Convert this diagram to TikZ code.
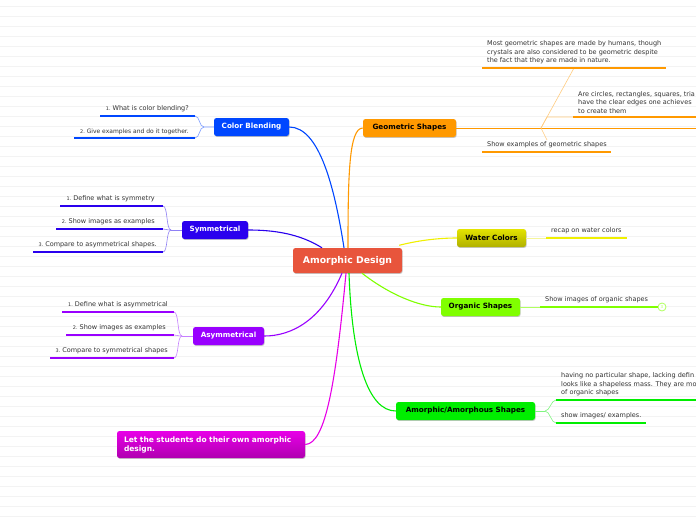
\documentclass[tikz,border=0pt]{standalone}
\usepackage{fontspec}
\setmainfont{DejaVu Sans}
\usetikzlibrary{shadows}
\definecolor{cred}{HTML}{E8553C}
\definecolor{corange}{HTML}{FF9900}
\definecolor{corangel}{HTML}{FFCC80}
\definecolor{cblue}{HTML}{0047FF}
\definecolor{cbluel}{HTML}{7A9BFF}
\definecolor{csym}{HTML}{2A00EE}
\definecolor{csyml}{HTML}{8F80F5}
\definecolor{casym}{HTML}{9900FF}
\definecolor{casyml}{HTML}{C680FF}
\definecolor{cmag}{HTML}{E800E8}
\definecolor{cmagd}{HTML}{B000B0}
\definecolor{cyel}{HTML}{F0F000}
\definecolor{cyelt}{HTML}{E4E400}
\definecolor{cyelb}{HTML}{B0B000}
\definecolor{cyell}{HTML}{F5F59A}
\definecolor{clime}{HTML}{80FF00}
\definecolor{climel}{HTML}{B0FF60}
\definecolor{cgreen}{HTML}{00EE00}
\definecolor{cgreenl}{HTML}{80F580}
\definecolor{leaftext}{HTML}{333333}
\definecolor{bgline}{HTML}{F3F3F3}
\newcommand\lnum[1]{{\fontsize{4.9}{6}\selectfont #1.}\ }
\begin{document}
\begin{tikzpicture}[x=1pt,y=-1pt,
  box/.style={rounded corners=2.5pt, minimum height=18pt, inner sep=0pt,
    font=\fontsize{7.2}{8}\selectfont\bfseries,
    drop shadow={shadow xshift=0.6pt, shadow yshift=-0.9pt, fill=black, opacity=0.22}},
  leaf/.style={font=\fontsize{6.5}{8.5}\selectfont, text=leaftext, inner sep=0pt},
  ul/.style={line width=1.7pt},
  br/.style={line width=0.6pt},
  mainc/.style={line width=1.1pt}]
\clip (0,0) rectangle (696,520);
\fill[white] (0,0) rectangle (696,520);
\foreach \k in {0,...,51} \draw[bgline, line width=0.8pt] (0,6+10*\k) -- (696,6+10*\k);

% central node
\node[box, fill=cred, minimum width=109pt, minimum height=25pt, text=white,
  font=\fontsize{9.3}{10}\selectfont\bfseries] (c) at (347.5,260.5) {Amorphic Design};

% main topics
\node[box, fill=corange, minimum width=93pt] (geo) at (409.5,128) {Geometric Shapes};
\node[box, fill=cblue, minimum width=75pt, text=white] (cb) at (251.5,127) {Color Blending};
\node[box, fill=csym, minimum width=66pt, text=white] (sym) at (215,230) {Symmetrical};
\node[box, fill=casym, minimum width=71pt, text=white] (asym) at (228.5,336) {Asymmetrical};
\node[box, top color=cmag, bottom color=cmagd, minimum width=188pt, minimum height=27pt,
  text=white, align=left, text width=174pt, inner xsep=7pt,
  font=\fontsize{7.5}{9}\selectfont\bfseries] (stu) at (211,444.5)
  {Let the students do their own amorphic\\design.};
\node[box, top color=cyelt, bottom color=cyelb, minimum width=69pt] (wat) at (491.5,238) {Water Colors};
\node[box, fill=clime, minimum width=79pt] (org) at (480.5,307) {Organic Shapes};
\node[box, fill=cgreen, minimum width=139pt] (amo) at (465.5,411) {Amorphic/Amorphous Shapes};

% main connectors
\draw[mainc, cblue] ([xshift=-3.5pt]c.north) .. controls (335,190) and (320,127) .. (cb.east);
\draw[mainc, corange] ([xshift=0.5pt]c.north) .. controls (348,175) and (349,128) .. (geo.west);
\draw[mainc, csym] ([xshift=-25.5pt]c.north) .. controls (300,234) and (275,230) .. (sym.east);
\draw[mainc, cyel] ([xshift=-3pt,yshift=2.5pt]c.north east) .. controls (420,240) and (440,238) .. (wat.west);
\draw[mainc, clime] ([xshift=14.5pt]c.south) .. controls (390,295) and (420,307) .. (org.west);
\draw[mainc, cgreen] ([xshift=1.5pt]c.south) .. controls (352,360) and (368,411) .. (amo.west);
\draw[mainc, casym] ([xshift=-5.5pt]c.south) .. controls (322,320) and (292,336) .. (asym.east);
\draw[mainc, cmag] ([xshift=-1.5pt]c.south) .. controls (336,380) and (326,444) .. (stu.east);

% ---- Geometric leaves
\coordinate (g1a) at (482,68); \coordinate (g1b) at (666,68);
\coordinate (g2a) at (573,117); \coordinate (g2b) at (700,117);
\coordinate (g3a) at (482,152); \coordinate (g3b) at (611,152);
\coordinate (gend) at (700,128);
\coordinate (gbp) at (541,128);
\coordinate (g1c) at (574,68);
\coordinate (g2c) at (547,117);
\coordinate (g3c) at (547,140);
\node[leaf, anchor=south west, align=left] (g1) at (487,64.5)
  {Most geometric shapes are made by humans, though\\crystals are also considered to be geometric despite\\the fact that they are made in nature.};
\node[leaf, anchor=south west, align=left] (g2) at (578,113.5)
  {Are circles, rectangles, squares, tria\\have the clear edges one achieves\\to create them};
\node[leaf, anchor=south west] (g3) at (487,148.5) {Show examples of geometric shapes};
\draw[line width=1pt, corange] (geo.east) -- (gend);
\draw[br, corangel] (gbp) -- (g1c);
\draw[br, corangel] (gbp) -- (g2c) -- (g2a);
\draw[br, corangel] (gbp) -- (g3c);
\draw[ul, corange] (g1a) -- (g1b);
\draw[ul, corange] (g2a) -- (g2b);
\draw[ul, corange] (g3a) -- (g3b);

% ---- Color blending leaves
\coordinate (cb1a) at (100,116); \coordinate (cb1b) at (195,116);
\coordinate (cb2a) at (74,138); \coordinate (cb2b) at (195,138);
\coordinate (cbj) at (204,127);
\node[leaf, anchor=south east] (cbt1) at (189,112.5) {\lnum{1}What is color blending?};
\node[leaf, anchor=south east, font=\fontsize{6}{7}\selectfont] (cbt2) at (189,134.5) {\lnum{2}Give examples and do it together.};
\draw[br, cbluel] (cb.west) -- (cbj) .. controls (199,127) and (200,116) .. (cb1b);
\draw[br, cbluel] (cbj) .. controls (199,127) and (200,138) .. (cb2b);
\draw[ul, cblue] (cb1a) -- (cb1b);
\draw[ul, cblue] (cb2a) -- (cb2b);

% ---- Symmetrical leaves
\coordinate (s1a) at (60,206); \coordinate (s1b) at (163,206);
\coordinate (s2a) at (56,229); \coordinate (s2b) at (163,229);
\coordinate (s3a) at (33,252); \coordinate (s3b) at (163,252);
\coordinate (sj) at (171,230);
\node[leaf, anchor=south east] (st1) at (155,202.5) {\lnum{1}Define what is symmetry};
\node[leaf, anchor=south east] (st2) at (155,225.5) {\lnum{2}Show images as examples};
\node[leaf, anchor=south east] (st3) at (157,248.5) {\lnum{3}Compare to asymmetrical shapes.};
\draw[br, csyml] (sym.west) -- (sj);
\draw[br, csyml] (sj) .. controls (166,230) and (168,206) .. (s1b);
\draw[br, csyml] (sj) .. controls (166,230) and (166,229) .. (s2b);
\draw[br, csyml] (sj) .. controls (166,230) and (168,252) .. (s3b);
\draw[ul, csym] (s1a) -- (s1b);
\draw[ul, csym] (s2a) -- (s2b);
\draw[ul, csym] (s3a) -- (s3b);

% ---- Asymmetrical leaves
\coordinate (a1a) at (62,312); \coordinate (a1b) at (174,312);
\coordinate (a2a) at (66,335); \coordinate (a2b) at (174,335);
\coordinate (a3a) at (50,358); \coordinate (a3b) at (174,358);
\coordinate (aj) at (182,336);
\node[leaf, anchor=south east] (at1) at (168,308.5) {\lnum{1}Define what is asymmetrical};
\node[leaf, anchor=south east] (at2) at (166,331.5) {\lnum{2}Show images as examples};
\node[leaf, anchor=south east] (at3) at (168,354.5) {\lnum{3}Compare to symmetrical shapes};
\draw[br, casyml] (asym.west) -- (aj);
\draw[br, casyml] (aj) .. controls (177,336) and (179,312) .. (a1b);
\draw[br, casyml] (aj) .. controls (177,336) and (177,335) .. (a2b);
\draw[br, casyml] (aj) .. controls (177,336) and (179,358) .. (a3b);
\draw[ul, casym] (a1a) -- (a1b);
\draw[ul, casym] (a2a) -- (a2b);
\draw[ul, casym] (a3a) -- (a3b);

% ---- Water colors leaf
\coordinate (w1a) at (546,238); \coordinate (w1b) at (627,238);
\node[leaf, anchor=south west] (wt1) at (551,234.5) {recap on water colors};
\draw[br, cyell] (wat.east) -- (w1a);
\draw[ul, cyel] (w1a) -- (w1b);

% ---- Organic leaf
\coordinate (o1a) at (540,307); \coordinate (o1b) at (656,307);
\node[leaf, anchor=south west] (ot1) at (545,303.5) {Show images of organic shapes};
\node[circle, draw=climel, line width=0.8pt, fill=white, minimum size=8pt, inner sep=0pt,
  font=\fontsize{4}{4}\selectfont, text=climel] (oc) at (662,307) {3};
\draw[br, climel] (org.east) -- (o1a);
\draw[ul, clime] (o1a) -- (oc.west);

% ---- Amorphous leaves
\coordinate (m1a) at (556,400); \coordinate (m1b) at (700,400);
\coordinate (m2a) at (556,423); \coordinate (m2b) at (646,423);
\coordinate (mj) at (545,411);
\node[leaf, anchor=south west, align=left] (mt1) at (561,396.5)
  {having no particular shape, lacking defin\\looks like a shapeless mass. They are mo\\of organic shapes};
\node[leaf, anchor=south west] (mt2) at (561,419.5) {show images/ examples.};
\draw[br, cgreenl] (amo.east) -- (mj);
\draw[br, cgreenl] (mj) .. controls (550,411) and (551,400) .. (m1a);
\draw[br, cgreenl] (mj) .. controls (550,411) and (551,423) .. (m2a);
\draw[ul, cgreen] (m1a) -- (m1b);
\draw[ul, cgreen] (m2a) -- (m2b);
\end{tikzpicture}
\end{document}
